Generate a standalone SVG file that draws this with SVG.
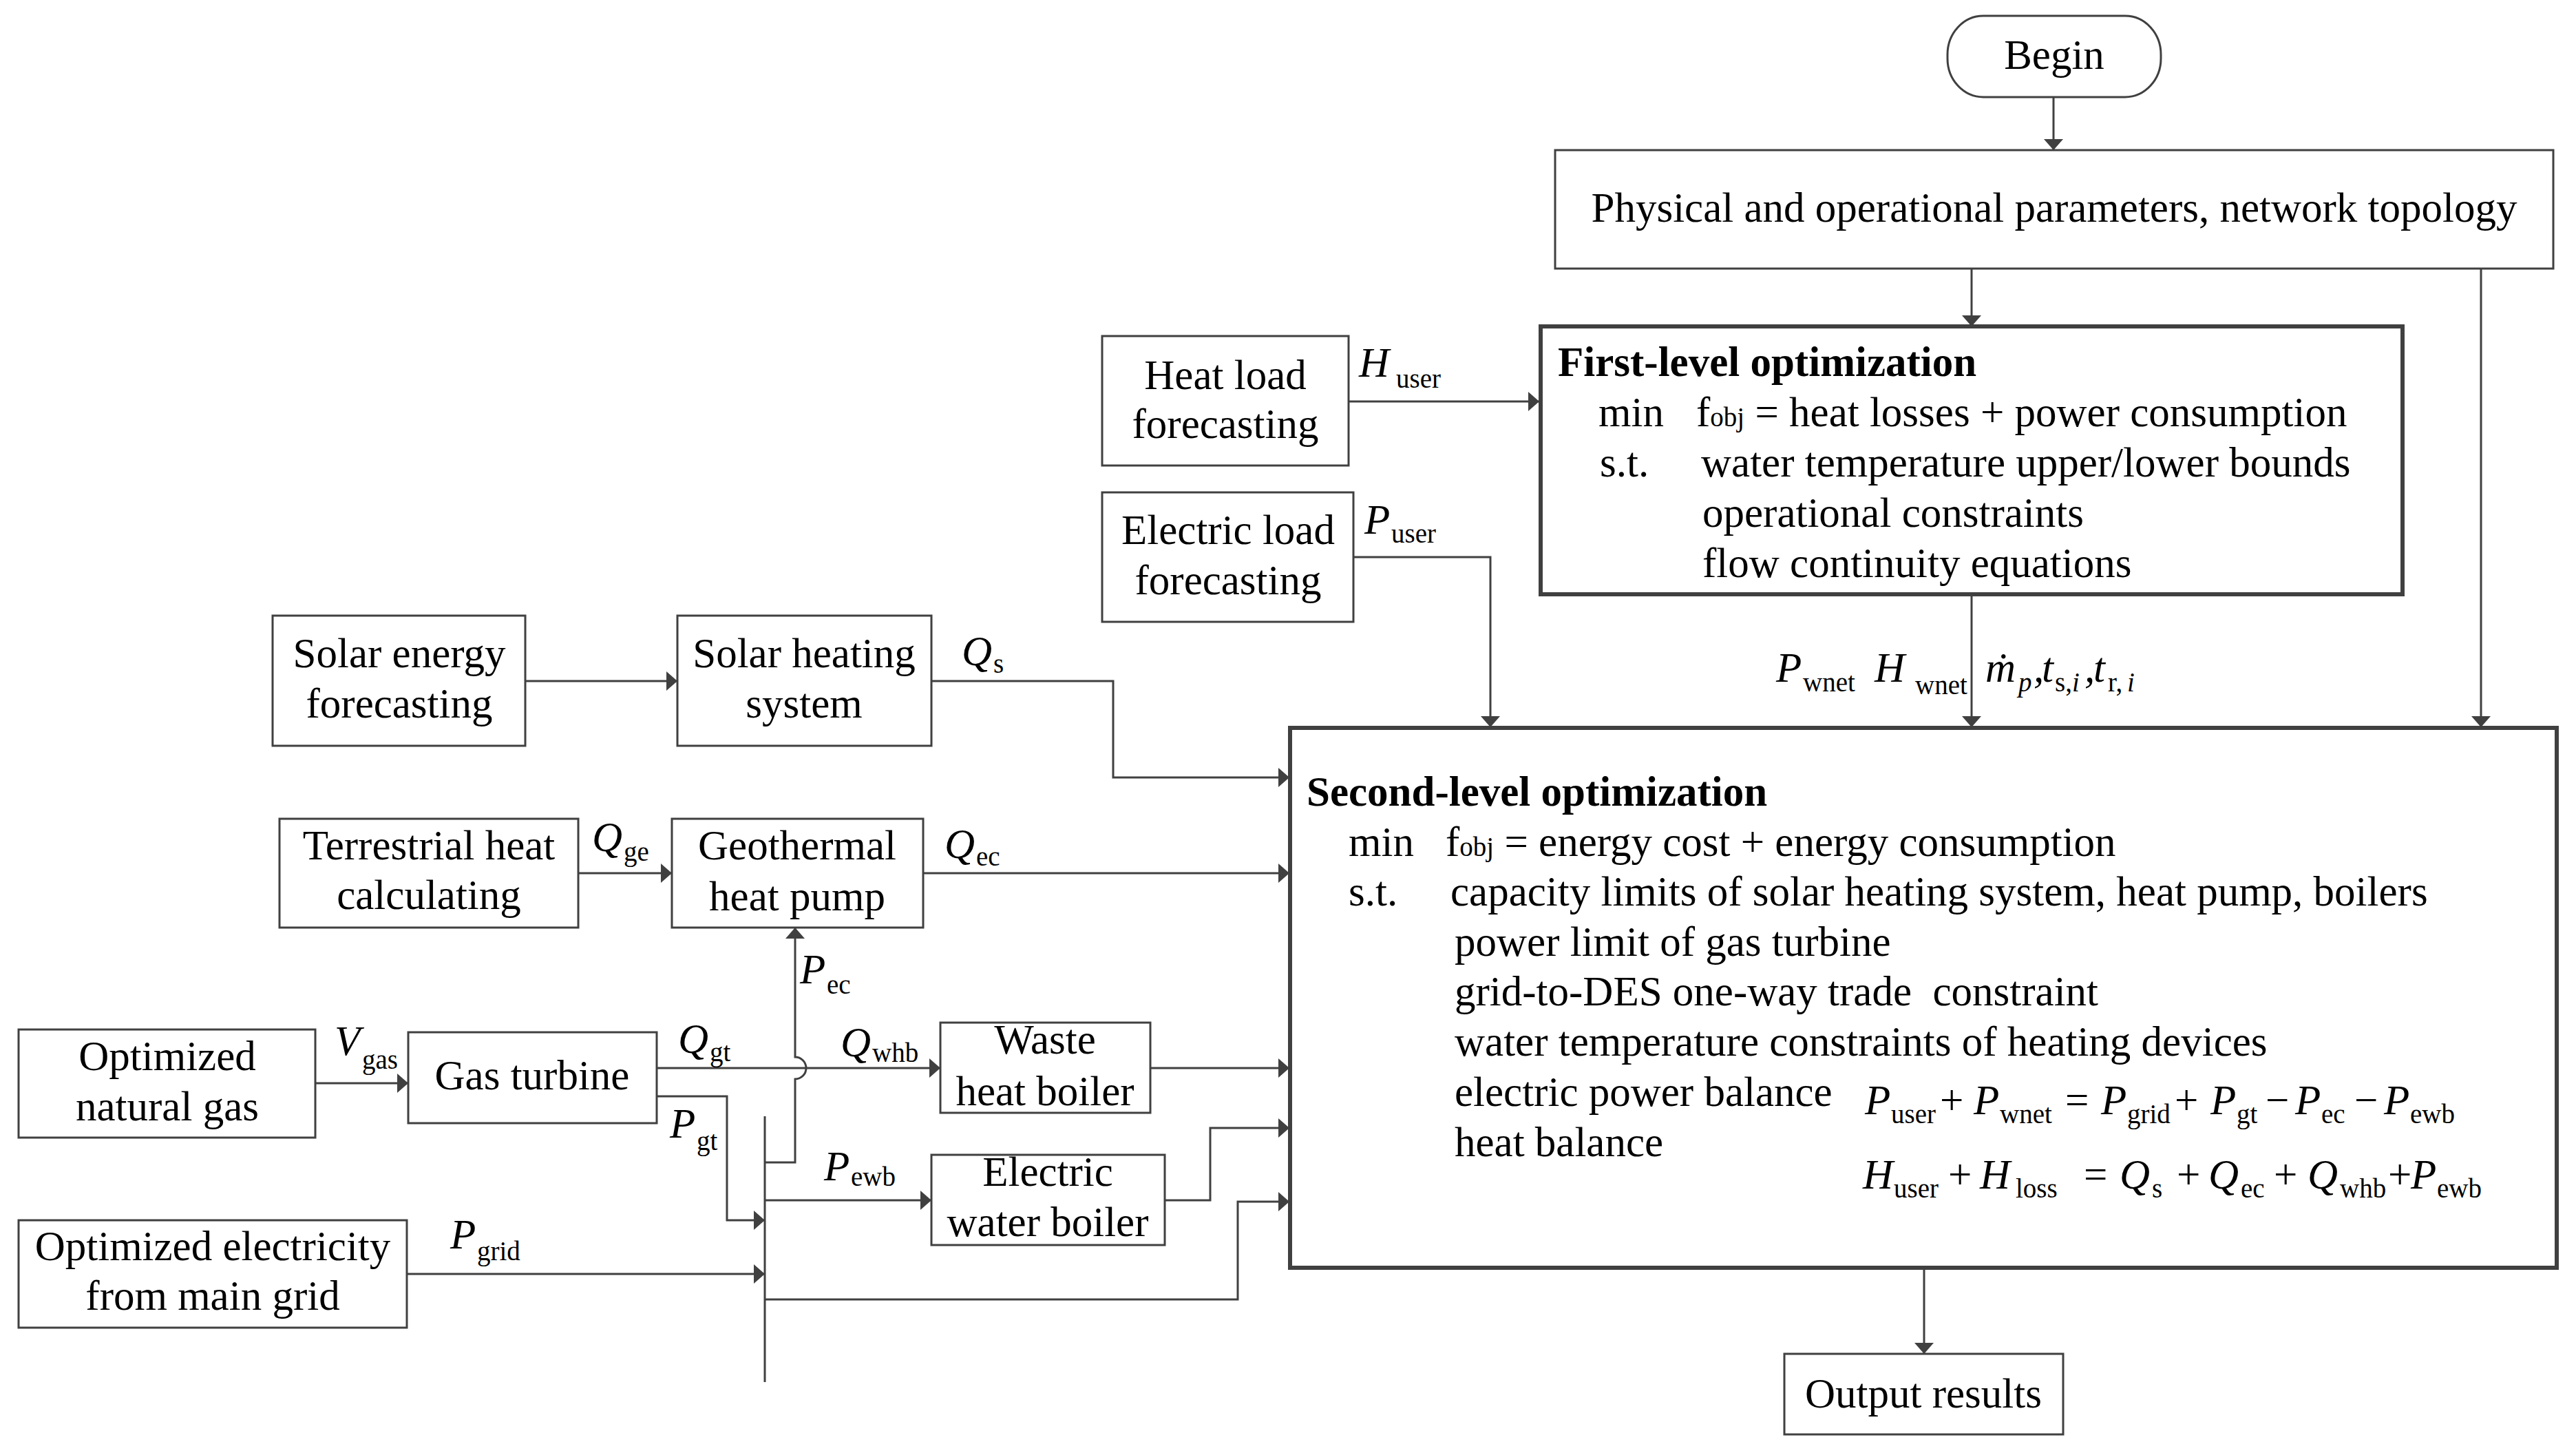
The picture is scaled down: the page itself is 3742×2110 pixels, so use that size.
<svg xmlns="http://www.w3.org/2000/svg" width="3742" height="2110" viewBox="0 0 3742 2110">
<style>
.bx{fill:#fff;stroke:#404040;stroke-width:3}
.tk{stroke-width:6}
.t{font-family:"Liberation Serif","Times New Roman",serif;font-size:61px;fill:#000}
.c{text-anchor:middle}
.b{font-weight:bold}
.i{font-style:italic}
.n{font-style:normal}
.s{font-size:39px}
.ln{fill:none;stroke:#404040;stroke-width:3}
.pre{white-space:pre}
</style>
<defs>
<marker id="ah" markerUnits="userSpaceOnUse" markerWidth="16" markerHeight="28" refX="16" refY="14" orient="auto">
<path d="M0,0 L16,14 L0,28 z" fill="#404040"/>
</marker>
</defs>
<rect width="3742" height="2110" fill="#fff"/>

<g id="connectors" class="ln">
<path d="M2983,141 V218" marker-end="url(#ah)"/>
<path d="M2864,390 V474" marker-end="url(#ah)"/>
<path d="M3604,390 V1056" marker-end="url(#ah)"/>
<path d="M2864,863 V1056" marker-end="url(#ah)"/>
<path d="M2795,1841 V1966" marker-end="url(#ah)"/>
<path d="M1959,583 H2236" marker-end="url(#ah)"/>
<path d="M1966,809 H2165 V1056" marker-end="url(#ah)"/>
<path d="M763,989 H984" marker-end="url(#ah)"/>
<path d="M1353,989 H1617 V1129 H1873" marker-end="url(#ah)"/>
<path d="M840,1268 H976" marker-end="url(#ah)"/>
<path d="M1341,1268 H1873" marker-end="url(#ah)"/>
<path d="M458,1573 H593" marker-end="url(#ah)"/>
<path d="M954,1551 H1366" marker-end="url(#ah)"/>
<path d="M1671,1551 H1873" marker-end="url(#ah)"/>
<path d="M954,1592 H1056 V1772 H1111" marker-end="url(#ah)"/>
<path d="M1111,1621 V2007"/>
<path d="M1111,1688 H1155 V1567 A16,16 0 0 0 1155,1535 V1347" marker-end="url(#ah)"/>
<path d="M1111,1743 H1353" marker-end="url(#ah)"/>
<path d="M1692,1743 H1758 V1638 H1873" marker-end="url(#ah)"/>
<path d="M591,1850 H1111" marker-end="url(#ah)"/>
<path d="M1111,1887 H1798 V1745 H1873" marker-end="url(#ah)"/>
</g>

<g id="begin">
<rect class="bx" x="2829" y="23" width="310" height="118" rx="52" ry="56"/>
<text class="t c" x="2984" y="100">Begin</text>
</g>

<g id="physical">
<rect class="bx" x="2259" y="218" width="1450" height="172"/>
<text class="t c" x="2984" y="322">Physical and operational parameters, network topology</text>
</g>

<g id="first-level">
<rect class="bx tk" x="2238" y="474" width="1252" height="389"/>
<text class="t b" x="2263" y="546">First-level optimization</text>
<text class="t" x="2322" y="619">min</text>
<text class="t" x="2464" y="619">f<tspan class="s">obj</tspan> = heat losses + power consumption</text>
<text class="t" x="2324" y="692">s.t.</text>
<text class="t" x="2471" y="692">water temperature upper/lower bounds</text>
<text class="t" x="2473" y="765">operational constraints</text>
<text class="t" x="2473" y="838">flow continuity equations</text>
</g>

<g id="second-level">
<rect class="bx tk" x="1874" y="1057" width="1840" height="784"/>
<text class="t b" x="1898" y="1170">Second-level optimization</text>
<text class="t" x="1959" y="1243">min</text>
<text class="t" x="2100" y="1243">f<tspan class="s">obj</tspan> = energy cost + energy consumption</text>
<text class="t" x="1959" y="1315">s.t.</text>
<text class="t" x="2107" y="1315">capacity limits of solar heating system, heat pump, boilers</text>
<text class="t" x="2113" y="1388">power limit of gas turbine</text>
<text class="t pre" x="2113" y="1460">grid-to-DES one-way trade  constraint</text>
<text class="t" x="2113" y="1533">water temperature constraints of heating devices</text>
<text class="t" x="2113" y="1606">electric power balance</text>
<text class="t" x="2113" y="1679">heat balance</text>
<text class="t"><tspan class="i" x="2709" y="1618">P</tspan><tspan class="s" x="2747" y="1631">user</tspan><tspan x="2818" y="1618">+</tspan><tspan class="i" x="2867" y="1618">P</tspan><tspan class="s" x="2905" y="1631">wnet</tspan><tspan x="3000" y="1618">=</tspan><tspan class="i" x="3052" y="1618">P</tspan><tspan class="s" x="3090" y="1631">grid</tspan><tspan x="3159" y="1618">+</tspan><tspan class="i" x="3211" y="1618">P</tspan><tspan class="s" x="3249" y="1631">gt</tspan><tspan x="3291" y="1618">−</tspan><tspan class="i" x="3334" y="1618">P</tspan><tspan class="s" x="3372" y="1631">ec</tspan><tspan x="3420" y="1618">−</tspan><tspan class="i" x="3463" y="1618">P</tspan><tspan class="s" x="3501" y="1631">ewb</tspan></text>
<text class="t"><tspan class="i" x="2706" y="1726">H</tspan><tspan class="s" x="2751" y="1739">user</tspan><tspan x="2830" y="1726">+</tspan><tspan class="i" x="2876" y="1726">H</tspan><tspan class="s" x="2928" y="1739">loss</tspan><tspan x="3027" y="1726">=</tspan><tspan class="i" x="3079" y="1726">Q</tspan><tspan class="s" x="3126" y="1739">s</tspan><tspan x="3162" y="1726">+</tspan><tspan class="i" x="3208" y="1726">Q</tspan><tspan class="s" x="3255" y="1739">ec</tspan><tspan x="3303" y="1726">+</tspan><tspan class="i" x="3352" y="1726">Q</tspan><tspan class="s" x="3399" y="1739">whb</tspan><tspan x="3469" y="1726">+</tspan><tspan class="i" x="3502" y="1726">P</tspan><tspan class="s" x="3540" y="1739">ewb</tspan></text>
</g>

<g id="output">
<rect class="bx" x="2592" y="1966" width="405" height="117"/>
<text class="t c" x="2794" y="2044">Output results</text>
</g>

<g id="heat-load">
<rect class="bx" x="1601" y="488" width="358" height="188"/>
<text class="t c" x="1780" y="565">Heat load</text>
<text class="t c" x="1780" y="636">forecasting</text>
</g>

<g id="electric-load">
<rect class="bx" x="1601" y="715" width="365" height="188"/>
<text class="t c" x="1784" y="790">Electric load</text>
<text class="t c" x="1784" y="863">forecasting</text>
</g>

<g id="solar-energy">
<rect class="bx" x="396" y="894" width="367" height="189"/>
<text class="t c" x="580" y="969">Solar energy</text>
<text class="t c" x="580" y="1042">forecasting</text>
</g>

<g id="solar-heating">
<rect class="bx" x="984" y="894" width="369" height="189"/>
<text class="t c" x="1168" y="969">Solar heating</text>
<text class="t c" x="1168" y="1042">system</text>
</g>

<g id="terrestrial">
<rect class="bx" x="406" y="1189" width="434" height="158"/>
<text class="t c" x="623" y="1248">Terrestrial heat</text>
<text class="t c" x="623" y="1320">calculating</text>
</g>

<g id="geothermal">
<rect class="bx" x="976" y="1189" width="365" height="158"/>
<text class="t c" x="1158" y="1248">Geothermal</text>
<text class="t c" x="1158" y="1322">heat pump</text>
</g>

<g id="natural-gas">
<rect class="bx" x="27" y="1495" width="431" height="157"/>
<text class="t c" x="243" y="1554">Optimized</text>
<text class="t c" x="243" y="1627">natural gas</text>
</g>

<g id="gas-turbine">
<rect class="bx" x="593" y="1499" width="361" height="132"/>
<text class="t c" x="773" y="1582">Gas turbine</text>
</g>

<g id="waste-heat-boiler">
<rect class="bx" x="1366" y="1485" width="305" height="131"/>
<text class="t c" x="1518" y="1530">Waste</text>
<text class="t c" x="1518" y="1605">heat boiler</text>
</g>

<g id="electric-water-boiler">
<rect class="bx" x="1353" y="1677" width="339" height="131"/>
<text class="t c" x="1522" y="1722">Electric</text>
<text class="t c" x="1522" y="1795">water boiler</text>
</g>

<g id="main-grid">
<rect class="bx" x="27" y="1772" width="564" height="156"/>
<text class="t c" x="309" y="1830">Optimized electricity</text>
<text class="t c" x="309" y="1902">from main grid</text>
</g>

<g id="labels">
<text class="t i" x="1974" y="547">H<tspan class="s n" x="2028" y="563">user</tspan></text>
<text class="t i" x="1982" y="775">P<tspan class="s n" x="2021" y="788">user</tspan></text>
<text class="t i" x="1397" y="966">Q<tspan class="s n" x="1443" y="977">s</tspan></text>
<text class="t i" x="860" y="1236">Q<tspan class="s n" x="906" y="1250">ge</tspan></text>
<text class="t i" x="1372" y="1246">Q<tspan class="s n" x="1418" y="1257">ec</tspan></text>
<text class="t i" x="486" y="1532">V<tspan class="s n" x="526" y="1552">gas</tspan></text>
<text class="t i" x="985" y="1529">Q<tspan class="s n" x="1031" y="1541">gt</tspan></text>
<text class="t i" x="1221" y="1534">Q<tspan class="s n" x="1267" y="1542">whb</tspan></text>
<text class="t i" x="973" y="1652">P<tspan class="s n" x="1012" y="1670">gt</tspan></text>
<text class="t i" x="1162" y="1428">P<tspan class="s n" x="1201" y="1443">ec</tspan></text>
<text class="t i" x="1197" y="1714">P<tspan class="s n" x="1236" y="1722">ewb</tspan></text>
<text class="t i" x="654" y="1813">P<tspan class="s n" x="693" y="1830">grid</tspan></text>
<text class="t i" x="2580" y="990">P<tspan class="s n" x="2619" y="1004">wnet</tspan></text>
<text class="t i" x="2723" y="990">H<tspan class="s n" x="2782" y="1008">wnet</tspan></text>
<text class="t i" x="2884" y="990">ṁ<tspan class="s" x="2932" y="1004">p</tspan><tspan x="2954" y="990">,</tspan><tspan x="2966" y="990">t</tspan><tspan class="s n" x="2985" y="1004">s,</tspan><tspan class="s" x="3010" y="1004">i</tspan><tspan x="3028" y="990">,</tspan><tspan x="3041" y="990">t</tspan><tspan class="s n" x="3062" y="1004">r,</tspan><tspan class="s" x="3090" y="1004">i</tspan></text>
</g>
</svg>
